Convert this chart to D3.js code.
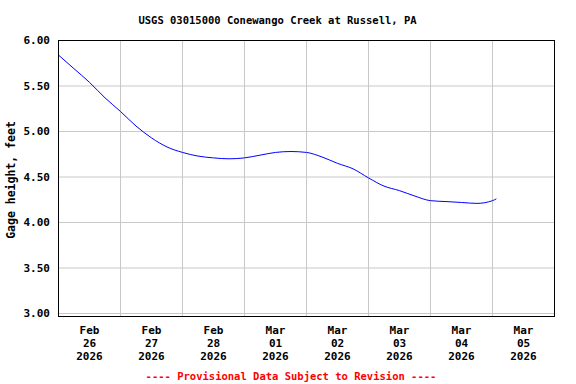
<!DOCTYPE html>
<html>
<head>
<meta charset="utf-8">
<script src="https://cdn.jsdelivr.net/npm/d3@7"></script>
<style>
  body { margin: 0; background: #fff; }
  svg { display: block; }
  text { font-family: "DejaVu Sans Mono", monospace; font-weight: bold; }
</style>
</head>
<body>
<div id="graphicContainer"></div>
<script>
// hours after 2026-02-26 00:00, gage height in feet
var hours = [0, 6, 12, 18, 24, 30, 36, 42, 48, 54, 60, 66, 72, 78, 84, 90, 96,
  102, 108, 114, 120, 126, 132, 138, 144, 150, 156, 162, 168, 169.5]
var gage = [5.84, 5.69, 5.54, 5.37, 5.22, 5.06, 4.93, 4.83, 4.77, 4.73, 4.71, 4.70,
  4.71, 4.74, 4.77, 4.78, 4.77, 4.72, 4.65, 4.59, 4.49, 4.40, 4.35, 4.29, 4.24,
  4.23, 4.22, 4.21, 4.24, 4.26]

var yTicks = [3.0, 3.5, 4.0, 4.5, 5.0, 5.5, 6.0]
var dayLabels = [
  ["Feb", "26", "2026"], ["Feb", "27", "2026"], ["Feb", "28", "2026"],
  ["Mar", "01", "2026"], ["Mar", "02", "2026"], ["Mar", "03", "2026"],
  ["Mar", "04", "2026"], ["Mar", "05", "2026"]
]

var start = Date.UTC(2026, 1, 26)
var end = Date.UTC(2026, 2, 6)
var dayMs = 86400000

var width = 576, height = 384
var plotLeft = 58.5, plotRight = 554.5, plotTop = 40.5, plotBottom = 316.5

var x = d3.scaleUtc().domain([start, end]).range([plotLeft, plotRight])
var y = d3.scaleLinear().domain([3, 6]).range([313.5, plotTop])

var svg = d3.select("#graphicContainer")
  .append("svg")
  .attr("width", width)
  .attr("height", height)

// grid
var midnights = d3.range(1, 8).map(function (i) { return start + i * dayMs })

svg.append("g")
  .selectAll("line")
  .data(midnights)
  .join("line")
  .attr("x1", d => x(d)).attr("x2", d => x(d))
  .attr("y1", plotTop).attr("y2", plotBottom)
  .attr("stroke", "#c8c8c8")

svg.append("g")
  .selectAll("line")
  .data(yTicks)
  .join("line")
  .attr("x1", plotLeft).attr("x2", plotRight)
  .attr("y1", d => y(d)).attr("y2", d => y(d))
  .attr("stroke", "#c8c8c8")

// data line
var line = d3.line()
  .x(function (d, i) { return x(start + hours[i] * 3600000) })
  .y(function (d) { return y(d) })
  .curve(d3.curveMonotoneX)

svg.append("path")
  .datum(gage)
  .attr("d", line)
  .attr("fill", "none")
  .attr("stroke", "#0000ff")
  .attr("stroke-width", 1)

// frame
svg.append("rect")
  .attr("x", plotLeft).attr("y", plotTop)
  .attr("width", plotRight - plotLeft).attr("height", plotBottom - plotTop)
  .attr("fill", "none")
  .attr("stroke", "#000")

// y tick labels
svg.append("g")
  .selectAll("text")
  .data(yTicks)
  .join("text")
  .attr("x", 50)
  .attr("y", d => y(d))
  .attr("dy", "0.35em")
  .attr("text-anchor", "end")
  .style("font-size", "11px")
  .text(d => d3.format(".2f")(d))

// x tick labels, centred on noon of each day
var xl = svg.append("g")
  .selectAll("text")
  .data(dayLabels)
  .join("text")
  .attr("text-anchor", "middle")
  .style("font-size", "11px")

xl.selectAll("tspan")
  .data(function (d, i) { return d.map(function (s) { return { s: s, i: i } }) })
  .join("tspan")
  .attr("x", d => x(start + d.i * dayMs + dayMs / 2))
  .attr("y", function (d, j) { return 334 + j * 13 })
  .text(d => d.s)

// y axis title
svg.append("text")
  .attr("transform", "translate(15,180) rotate(-90)")
  .attr("text-anchor", "middle")
  .style("font-size", "11.5px")
  .text("Gage height, feet")

// title
svg.append("text")
  .attr("x", 277.5)
  .attr("y", 24)
  .attr("text-anchor", "middle")
  .style("font-size", "10.5px")
  .text("USGS 03015000 Conewango Creek at Russell, PA")

svg.append("text")
  .attr("x", 291)
  .attr("y", 380)
  .attr("text-anchor", "middle")
  .attr("fill", "#ff0000")
  .style("font-size", "10.5px")
  .text("---- Provisional Data Subject to Revision ----")
</script>
</body>
</html>
